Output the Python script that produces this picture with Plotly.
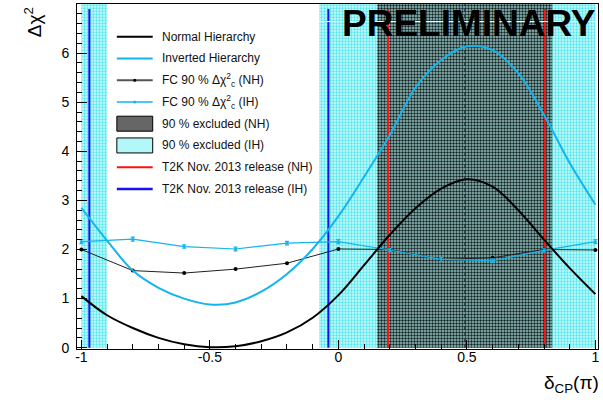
import plotly.graph_objects as go

# ---------------- data ----------------
delta_cp = [-1.0, -0.9, -0.8, -0.7, -0.6, -0.5, -0.4, -0.3, -0.2, -0.1, 0.0,
            0.1, 0.2, 0.3, 0.4, 0.5, 0.6, 0.7, 0.8, 0.9, 1.0]
nh_chi2 = [1.05, 0.66, 0.40, 0.20, 0.07, 0.01, 0.03, 0.13, 0.31, 0.61, 1.07,
           1.68, 2.30, 2.84, 3.24, 3.43, 3.28, 2.80, 2.20, 1.62, 1.09]
ih_chi2 = [2.85, 2.18, 1.57, 1.22, 1.00, 0.88, 0.92, 1.14, 1.50, 2.01, 2.68,
           3.48, 4.33, 5.30, 5.86, 6.14, 6.06, 5.59, 4.74, 3.76, 2.91]

fc_x = [-1.0, -0.8, -0.6, -0.4, -0.2, 0.0, 0.2, 0.4, 0.6, 0.8, 1.0]
fc_nh = [2.00, 1.57, 1.52, 1.60, 1.72, 2.01, 2.00, 1.80, 1.83, 2.00, 1.99]
fc_ih = [2.16, 2.21, 2.06, 2.01, 2.13, 2.16, 1.99, 1.80, 1.77, 1.98, 2.16]
fc_ih_err = [0.04, 0.04, 0.035, 0.04, 0.035, 0.04, 0.035, 0.04, 0.04, 0.035, 0.04]

nh_excluded = [(0.151, 0.832)]
ih_excluded = [(-1.0, -0.90), (-0.075, 1.0)]
t2k_nh = [0.193, 0.804]
t2k_ih = [-0.969, -0.039]
t2k_top = 6.9
y_max = 7.0

x_ticks = [-1, -0.5, 0, 0.5, 1]
x_tick_labels = ["-1", "-0.5", "0", "0.5", "1"]
y_ticks = [0, 1, 2, 3, 4, 5, 6, 7]

legend_labels = [
    "Normal Hierarchy",
    "Inverted Hierarchy",
    "FC 90 % Δχ<sup>2</sup><sub>c</sub> (NH)",
    "FC 90 % Δχ<sup>2</sup><sub>c</sub> (IH)",
    "90 % excluded (NH)",
    "90 % excluded (IH)",
    "T2K Nov. 2013 release (NH)",
    "T2K Nov. 2013 release (IH)",
]

# ---------------- styling ----------------
FONT = "Liberation Sans, Arial, Helvetica, sans-serif"
CYAN = "#14b4ec"
W, H = 603, 403
ML, MR, MT, MB = 77, 3, 4, 54
PW, PH = W - ML - MR, H - MT - MB


def px2paper(px, py):
    return (px - ML) / PW, (H - MB - py) / PH


fig = go.Figure()

# excluded regions
for a, b in ih_excluded:
    fig.add_trace(go.Scatter(
        x=[a, a, b, b, a], y=[0, y_max, y_max, 0, 0], mode="lines",
        fill="toself", fillcolor="#a8f4f7", line=dict(width=0),
        fillpattern=dict(shape=".", bgcolor="#c8fafb", fgcolor="#50e6ee",
                         size=3, solidity=0.45, fillmode="replace"),
        hoverinfo="skip", showlegend=False))
for a, b in nh_excluded:
    fig.add_trace(go.Scatter(
        x=[a, a, b, b, a], y=[0, y_max, y_max, 0, 0], mode="lines",
        fill="toself", fillcolor="#5b8484", line=dict(width=0),
        fillpattern=dict(shape=".", bgcolor="#98c4c4", fgcolor="#142424",
                         size=3, solidity=0.5, fillmode="replace"),
        hoverinfo="skip", showlegend=False))
    mid = (a + b) / 2
    fig.add_trace(go.Scatter(x=[mid, mid], y=[0, y_max], mode="lines",
                             line=dict(color="#1c3030", width=1, dash="dot"),
                             hoverinfo="skip", showlegend=False))

# T2K release lines
for xv in t2k_nh:
    fig.add_trace(go.Scatter(x=[xv, xv], y=[0, t2k_top], mode="lines",
                             line=dict(color="#ff1010", width=2),
                             hoverinfo="skip", showlegend=False))
for xv in t2k_ih:
    fig.add_trace(go.Scatter(x=[xv, xv], y=[0, t2k_top], mode="lines",
                             line=dict(color="#1414f0", width=2),
                             hoverinfo="skip", showlegend=False))

# FC critical values
fig.add_trace(go.Scatter(x=fc_x, y=fc_nh, mode="lines+markers",
                         line=dict(color="#202020", width=1),
                         marker=dict(color="black", size=4),
                         showlegend=False))
fig.add_trace(go.Scatter(x=fc_x, y=fc_ih, mode="lines+markers",
                         line=dict(color=CYAN, width=1.2),
                         marker=dict(color=CYAN, size=3),
                         error_y=dict(type="data", array=fc_ih_err, color=CYAN,
                                      thickness=1.2, width=2),
                         showlegend=False))

# Δχ² curves
fig.add_trace(go.Scatter(x=delta_cp, y=nh_chi2, mode="lines",
                         line=dict(color="black", width=2, shape="spline", smoothing=1.0),
                         showlegend=False))
fig.add_trace(go.Scatter(x=delta_cp, y=ih_chi2, mode="lines",
                         line=dict(color=CYAN, width=2, shape="spline", smoothing=1.0),
                         showlegend=False))

shapes = []
annotations = []

# thin white line near the top (as in the reference)
x0, yw = px2paper(320, 21.5)
x1, _ = px2paper(600, 21.5)
shapes.append(dict(type="line", xref="paper", yref="paper", x0=x0, x1=x1, y0=yw, y1=yw,
                   line=dict(color="white", width=1), layer="above"))

# manual legend
row_y0, row_dy = 36.7, 21.75
sx0, sx1, tx = 117, 153, 160
for i, lab in enumerate(legend_labels):
    py = row_y0 + i * row_dy
    a0, yy = px2paper(sx0, py)
    a1, _ = px2paper(sx1, py)
    if i in (0, 1, 2, 3, 6, 7):
        col = ["black", CYAN, "#555555", CYAN, None, None, "#ff1010", "#1414f0"][i]
        wid = [2, 2, 2, 1.5, 0, 0, 2, 2.5][i]
        shapes.append(dict(type="line", xref="paper", yref="paper",
                           x0=a0, x1=a1, y0=yy, y1=yy, line=dict(color=col, width=wid)))
        if i in (2, 3):
            dc = "black" if i == 2 else CYAN
            r = 1.5
            c0, c1 = px2paper((sx0 + sx1) / 2 - r, py + r)
            d0, d1 = px2paper((sx0 + sx1) / 2 + r, py - r)
            shapes.append(dict(type="circle", xref="paper", yref="paper",
                               x0=c0, y0=c1, x1=d0, y1=d1,
                               fillcolor=dc, line=dict(color=dc, width=0)))
    else:
        b0, by0 = px2paper(sx0, py - 7.5)
        b1, by1 = px2paper(sx1, py + 7.5)
        fc = "#666666" if i == 4 else "#b4f7f9"
        shapes.append(dict(type="rect", xref="paper", yref="paper",
                           x0=b0, x1=b1, y0=by1, y1=by0, fillcolor=fc,
                           line=dict(color="black", width=1)))
    t0, _ = px2paper(tx, py)
    annotations.append(dict(xref="paper", yref="paper", x=t0, y=yy, text=lab,
                            xanchor="left", yanchor="middle", showarrow=False,
                            font=dict(family=FONT, size=12, color="#111111")))

# PRELIMINARY
pxp, pyp = px2paper(471, 23.5)
annotations.append(dict(xref="paper", yref="paper", x=pxp, y=pyp, text="<b>PRELIMINARY</b>",
                        xanchor="center", yanchor="middle", showarrow=False,
                        font=dict(family=FONT, size=37, color="black")))

# axis titles
ax, ay = px2paper(33, 22)
annotations.append(dict(xref="paper", yref="paper", x=ax, y=ay, text="Δχ<sup>2</sup>",
                        textangle=-90, xanchor="center", yanchor="middle", showarrow=False,
                        font=dict(family=FONT, size=19, color="black")))
bx, by = px2paper(603, 384)
annotations.append(dict(xref="paper", yref="paper", x=bx, y=by, text="δ<sub>CP</sub>(π)",
                        xanchor="right", yanchor="middle", showarrow=False,
                        font=dict(family=FONT, size=19, color="black")))

fig.update_layout(
    width=W, height=H,
    margin=dict(l=ML, r=MR, t=MT, b=MB, pad=0),
    paper_bgcolor="white", plot_bgcolor="white",
    showlegend=False,
    shapes=shapes, annotations=annotations,
    xaxis=dict(range=[-1.017, 1.010], tickvals=x_ticks, ticktext=x_tick_labels,
               ticks="inside", ticklen=9, tickcolor="black", tickwidth=1,
               minor=dict(ticks="inside", ticklen=5, dtick=0.1, tickcolor="black"),
               showline=True, linecolor="black", linewidth=1, mirror=True,
               showgrid=False, zeroline=False, ticklabelstandoff=-5,
               tickfont=dict(family=FONT, size=14, color="black")),
    yaxis=dict(range=[-0.027, 7.0], tickvals=y_ticks,
               ticks="inside", ticklen=10, tickcolor="black", tickwidth=1,
               minor=dict(ticks="inside", ticklen=5, dtick=0.2, tickcolor="black"),
               showline=True, linecolor="black", linewidth=1, mirror=True,
               showgrid=False, zeroline=False, ticklabelstandoff=4,
               tickfont=dict(family=FONT, size=14, color="black")),
)

fig.write_html("out.html", config={"displayModeBar": False},
               post_script="document.body.style.margin='0px';")
